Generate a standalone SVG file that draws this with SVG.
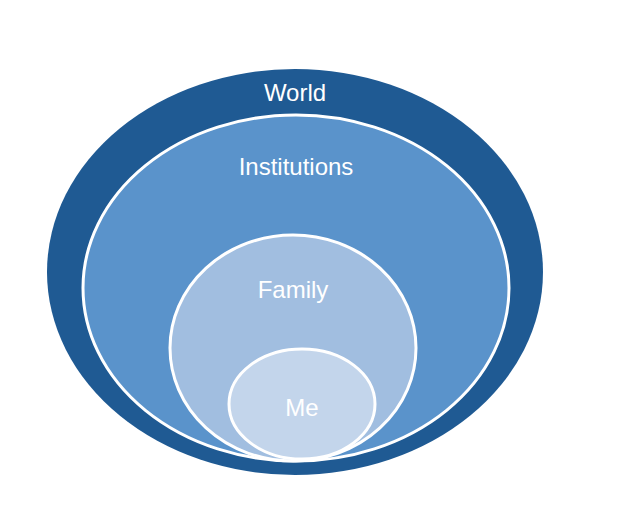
<svg xmlns="http://www.w3.org/2000/svg" width="625" height="517" viewBox="0 0 625 517">
<style>
.lbl{font-family:"Liberation Sans",Arial,sans-serif;fill:#fff;text-anchor:middle;font-size:24px}
.ring{stroke:#fff;stroke-width:3}
</style>
<rect width="625" height="517" fill="#fff"/>
<g id="world"><ellipse cx="295" cy="272" rx="248" ry="203" fill="#1f5a93"/><text class="lbl" x="295" y="101">World</text></g>
<g id="institutions"><ellipse class="ring" cx="296" cy="288" rx="213" ry="173" fill="#5a93cb"/><text class="lbl" x="296" y="175">Institutions</text></g>
<g id="family"><ellipse class="ring" cx="293" cy="348" rx="123" ry="113" fill="#a1bee0"/><text class="lbl" x="293" y="298">Family</text></g>
<g id="me"><ellipse class="ring" cx="302" cy="404" rx="73" ry="55" fill="#c3d5eb"/><text class="lbl" x="302" y="416">Me</text></g>
<g id="connectors"/>
</svg>
